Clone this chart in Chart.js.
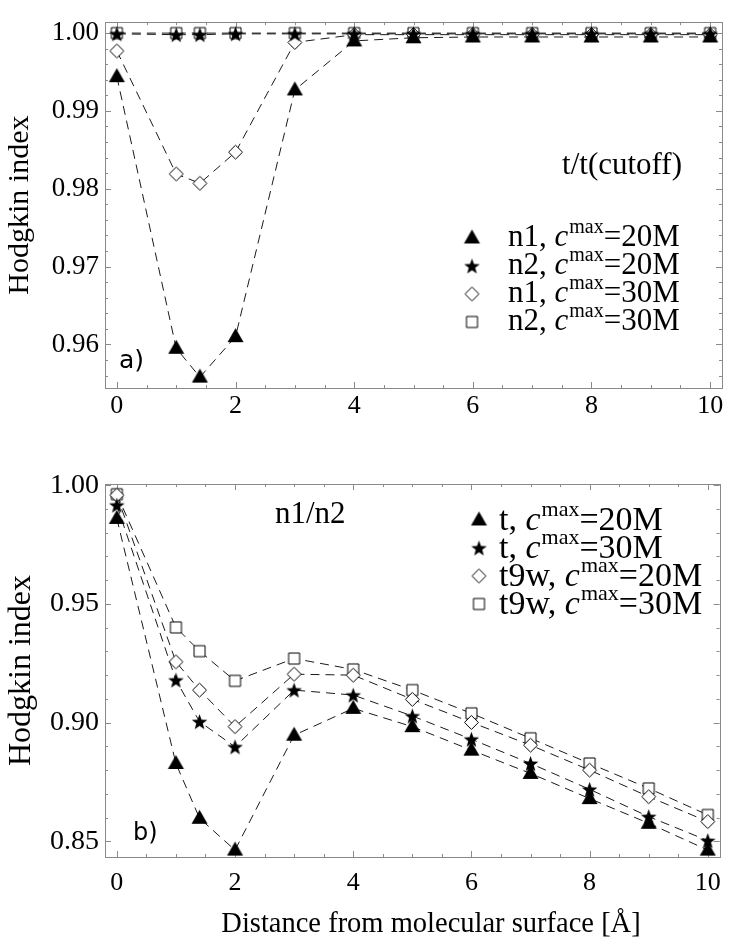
<!DOCTYPE html>
<html>
<head>
<meta charset="utf-8">
<script src="https://cdn.jsdelivr.net/npm/chart.js@4.4.0/dist/chart.umd.min.js"></script>
<style>
  html, body { margin: 0; padding: 0; background: #fff; }
  #wrap { position: relative; width: 732px; height: 947px; }
  #topChart { position: absolute; left: 0; top: 0; }
  #bottomChart { position: absolute; left: 0; top: 440px; }
</style>
</head>
<body>
<div id="wrap">
  <canvas id="topChart" width="732" height="440"></canvas>
  <canvas id="bottomChart" width="732" height="507"></canvas>
</div>
<script>
// shared x positions (distance from surface, Å)
const distances = [0, 1, 1.4, 2, 3, 4, 5, 6, 7, 8, 9, 10];
const xTickValues = [0, 2, 4, 6, 8, 10];

// panel a) t/t(cutoff)
const topYTicks = [0.96, 0.97, 0.98, 0.99, 1.00];
const topN1c20 = [0.9944, 0.9595, 0.9558, 0.9610, 0.9927, 0.9990, 0.9994, 0.9995, 0.9995, 0.9995, 0.9995, 0.9995];
const topN2c20 = [0.9999, 0.9998, 0.9998, 0.9999, 0.9999, 0.9999, 0.9999, 0.9999, 0.9999, 0.9999, 0.9999, 0.9999];
const topN1c30 = [0.9977, 0.9819, 0.9807, 0.9847, 0.9988, 0.9998, 0.9998, 0.9998, 0.9998, 0.9998, 0.9998, 0.9998];
const topN2c30 = [1.0000, 1.0000, 1.0000, 1.0000, 1.0000, 1.0000, 1.0000, 1.0000, 1.0000, 1.0000, 1.0000, 1.0000];
const topLegend = [['n1, ', '=20M'], ['n2, ', '=20M'], ['n1, ', '=30M'], ['n2, ', '=30M']];

// panel b) n1/n2
const bottomYTicks = [0.85, 0.90, 0.95, 1.00];
const bottomTc20 = [0.9860, 0.8828, 0.8597, 0.8463, 0.8947, 0.9060, 0.8983, 0.8884, 0.8786, 0.8680, 0.8576, 0.8463];
const bottomTc30 = [0.9916, 0.9179, 0.9004, 0.8898, 0.9137, 0.9116, 0.9028, 0.8930, 0.8828, 0.8719, 0.8604, 0.8503];
const bottomT9wc20 = [0.9958, 0.9256, 0.9137, 0.8983, 0.9204, 0.9200, 0.9098, 0.9001, 0.8905, 0.8800, 0.8688, 0.8583];
const bottomT9wc30 = [0.9962, 0.9401, 0.9301, 0.9176, 0.9270, 0.9224, 0.9137, 0.9039, 0.8934, 0.8828, 0.8723, 0.8611];
const bottomLegend = [['t, ', '=20M'], ['t, ', '=30M'], ['t9w, ', '=20M'], ['t9w, ', '=30M']];

const SERIF = '"Liberation Serif", "Times New Roman", serif';

// marker images, used both for points and the legend
function makeMarker(kind) {
    const c = document.createElement('canvas');
    c.width = 19;
    c.height = 19;
    const g = c.getContext('2d');
    g.translate(9.5, 9.5);
    g.fillStyle = '#000';
    g.strokeStyle = '#000';
    g.lineWidth = 1;
    g.beginPath();
    if (kind === 'triangle') {
        g.moveTo(0, -8.5);
        g.lineTo(8, 5.5);
        g.lineTo(-8, 5.5);
        g.closePath();
        g.fill();
    } else if (kind === 'star') {
        for (let k = 0; k < 10; k++) {
            const r = k % 2 ? 3.4 : 8.2;
            const ang = -Math.PI / 2 + k * Math.PI / 5;
            g.lineTo(r * Math.cos(ang), r * Math.sin(ang) + 0.8);
        }
        g.closePath();
        g.fill();
    } else if (kind === 'diamond') {
        g.moveTo(0, -7);
        g.lineTo(7, 0);
        g.lineTo(0, 7);
        g.lineTo(-7, 0);
        g.closePath();
        g.fillStyle = '#fff';
        g.fill();
        g.stroke();
    } else {
        g.rect(-5.5, -5.5, 11, 11);
        g.fillStyle = '#fff';
        g.fill();
        g.stroke();
    }
    return c;
}

const markers = {
    triangle: makeMarker('triangle'),
    star: makeMarker('star'),
    diamond: makeMarker('diamond'),
    square: makeMarker('square')
};

function series(values, marker, parts) {
    return {
        data: distances.map((d, i) => ({ x: d, y: values[i] })),
        showLine: true,
        borderColor: '#1a1a1a',
        borderWidth: 1,
        borderDash: [9, 6],
        pointStyle: marker,
        pointRadius: 8,
        pointHoverRadius: 8,
        tension: 0,
        clip: false,
        legendParts: parts
    };
}

// frame with inward major/minor ticks on all four sides
const framePlugin = {
    id: 'frame',
    beforeDatasetsDraw(chart, args, opts) {
        const { ctx, chartArea: a, scales: { x, y } } = chart;
        const px = v => Math.round(v) + 0.5;
        ctx.save();
        ctx.strokeStyle = '#8a8a8a';
        ctx.lineWidth = 1;
        ctx.strokeRect(px(a.left), px(a.top), Math.round(a.right) - Math.round(a.left), Math.round(a.bottom) - Math.round(a.top));
        ctx.beginPath();
        const start = Math.ceil(x.min / opts.xMinor - 1e-6) * opts.xMinor;
        for (let v = start; v <= x.max + 1e-9; v += opts.xMinor) {
            const major = xTickValues.some(t => Math.abs(t - v) < 1e-6);
            const len = major ? 6 : 3;
            const X = px(x.getPixelForValue(v));
            ctx.moveTo(X, a.bottom); ctx.lineTo(X, a.bottom - len);
            ctx.moveTo(X, a.top); ctx.lineTo(X, a.top + len);
        }
        const ys = Math.ceil(y.min / opts.yMinor - 1e-6) * opts.yMinor;
        for (let v = ys; v <= y.max + 1e-9; v += opts.yMinor) {
            const major = opts.yMajor.some(t => Math.abs(t - v) < 1e-6);
            const len = major ? 6 : 3;
            const Y = px(y.getPixelForValue(v));
            ctx.moveTo(a.left, Y); ctx.lineTo(a.left + len, Y);
            ctx.moveTo(a.right, Y); ctx.lineTo(a.right - len, Y);
        }
        ctx.stroke();
        ctx.restore();
    }
};

// panel labels, annotation and the legend with superscript c^max
const notesPlugin = {
    id: 'notes',
    afterDatasetsDraw(chart, args, opts) {
        const ctx = chart.ctx;
        ctx.save();
        ctx.fillStyle = '#000';
        ctx.textBaseline = 'alphabetic';
        opts.texts.forEach(t => {
            ctx.font = t.font;
            ctx.textAlign = t.align || 'left';
            ctx.fillText(t.text, t.x, t.y);
        });
        const lg = opts.legend;
        const mainFont = lg.size + 'px ' + SERIF;
        ctx.textAlign = 'left';
        chart.data.datasets.forEach((ds, i) => {
            const base = lg.y + i * lg.dy;
            const img = ds.pointStyle;
            ctx.drawImage(img, lg.markerX - img.width / 2, base - lg.lift - img.height / 2);
            let cx = lg.textX;
            ctx.font = mainFont;
            ctx.fillText(ds.legendParts[0], cx, base);
            cx += ctx.measureText(ds.legendParts[0]).width;
            ctx.font = 'italic ' + mainFont;
            ctx.fillText('c', cx, base);
            cx += ctx.measureText('c').width + 1;
            ctx.font = lg.supSize + 'px ' + SERIF;
            ctx.fillText('max', cx, base - lg.supRise);
            cx += ctx.measureText('max').width;
            ctx.font = mainFont;
            ctx.fillText(ds.legendParts[1], cx, base);
        });
        ctx.restore();
    }
};

function panelConfig(p) {
    return {
        type: 'scatter',
        data: { datasets: p.datasets },
        plugins: [framePlugin, notesPlugin],
        options: {
            responsive: false,
            animation: false,
            events: [],
            layout: { autoPadding: false, padding: p.padding },
            scales: {
                x: {
                    type: 'linear',
                    min: -0.2,
                    max: 10.2,
                    afterBuildTicks: s => { s.ticks = xTickValues.map(v => ({ value: v })); },
                    afterFit: s => { s.height = p.xHeight; },
                    grid: { display: false, drawTicks: false },
                    border: { display: false },
                    ticks: {
                        padding: p.xTickPad,
                        color: '#000',
                        font: { family: SERIF, size: 26 },
                        maxRotation: 0,
                        autoSkip: false,
                        callback: v => String(v)
                    }
                },
                y: {
                    type: 'linear',
                    min: p.yMin,
                    max: p.yMax,
                    afterBuildTicks: s => { s.ticks = p.yTicks.map(v => ({ value: v })); },
                    afterFit: s => { s.width = 103; },
                    grid: { display: false, drawTicks: false },
                    border: { display: false },
                    ticks: {
                        padding: 6,
                        color: '#000',
                        font: { family: SERIF, size: p.yTickSize },
                        autoSkip: false,
                        callback: v => v.toFixed(2)
                    },
                    title: {
                        display: true,
                        text: 'Hodgkin index',
                        color: '#000',
                        font: { family: SERIF, size: p.yTitleSize },
                        padding: { top: 0, bottom: 0 }
                    }
                }
            },
            plugins: {
                legend: { display: false },
                tooltip: { enabled: false },
                frame: { xMinor: 0.5, yMinor: p.yMinor, yMajor: p.yTicks },
                notes: { texts: p.texts, legend: p.legend }
            }
        }
    };
}

new Chart(document.getElementById('topChart'), panelConfig({
    datasets: [
        series(topN1c20, markers.triangle, topLegend[0]),
        series(topN2c20, markers.star, topLegend[1]),
        series(topN1c30, markers.diamond, topLegend[2]),
        series(topN2c30, markers.square, topLegend[3])
    ],
    padding: { left: 2, top: 7, right: 10, bottom: 0 },
    xHeight: 52,
    xTickPad: 3,
    yMin: 0.9544,
    yMax: 1.0014,
    yTicks: topYTicks,
    yMinor: 0.002,
    yTickSize: 27,
    yTitleSize: 30,
    texts: [
        { text: 't/t(cutoff)', x: 682, y: 174, align: 'right', font: '31px ' + SERIF },
        { text: 'a)', x: 119, y: 368, font: '25px "DejaVu Sans", sans-serif' }
    ],
    legend: { markerX: 472, textX: 508, y: 246, dy: 28, lift: 8, size: 31, supSize: 20, supRise: 13 }
}));

new Chart(document.getElementById('bottomChart'), panelConfig({
    datasets: [
        series(bottomTc20, markers.triangle, bottomLegend[0]),
        series(bottomTc30, markers.star, bottomLegend[1]),
        series(bottomT9wc20, markers.diamond, bottomLegend[2]),
        series(bottomT9wc30, markers.square, bottomLegend[3])
    ],
    padding: { left: 2, top: 44, right: 10, bottom: 0 },
    xHeight: 90,
    xTickPad: 11,
    yMin: 0.8434,
    yMax: 1.0005,
    yTicks: bottomYTicks,
    yMinor: 0.01,
    yTickSize: 28,
    yTitleSize: 32,
    texts: [
        { text: 'n1/n2', x: 275, y: 83, font: '31px ' + SERIF },
        { text: 'b)', x: 133, y: 400, font: '24px "DejaVu Sans", sans-serif' },
        { text: 'Distance from molecular surface [Å]', x: 431, y: 492, align: 'center', font: '28.5px ' + SERIF }
    ],
    legend: { markerX: 479, textX: 499, y: 90, dy: 28, lift: 10, size: 34, supSize: 22, supRise: 14 }
}));
</script>
</body>
</html>
